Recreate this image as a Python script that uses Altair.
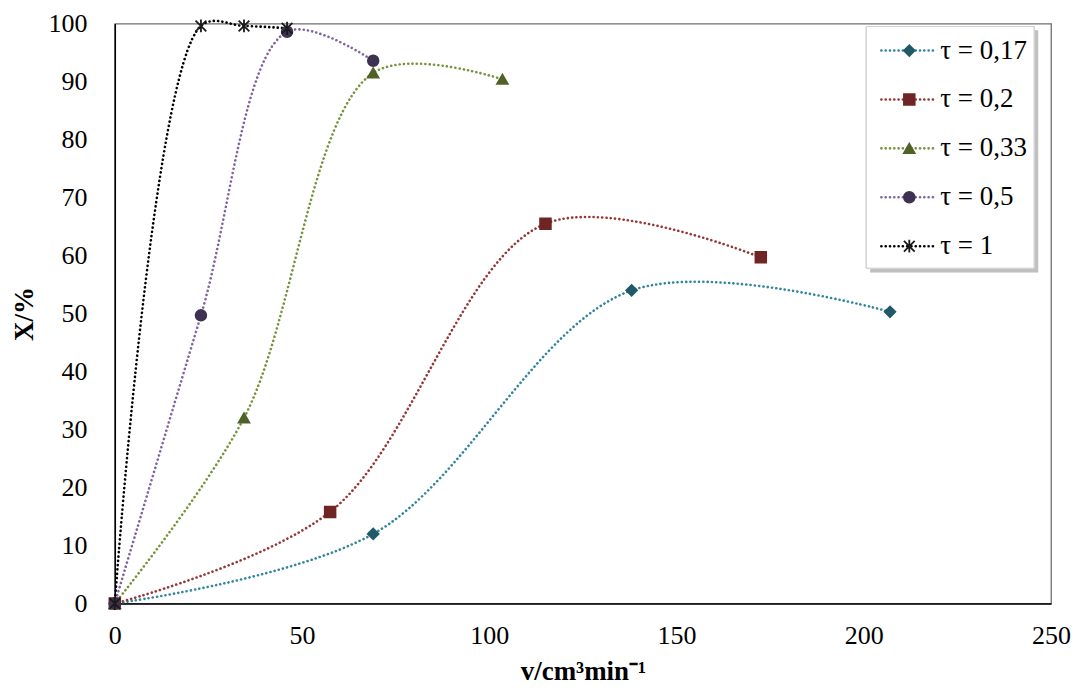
import altair as alt
import pandas as pd

# ---- data ----
labels = ["τ = 0,17", "τ = 0,2", "τ = 0,33", "τ = 0,5", "τ = 1"]
x_017 = [0, 69, 138, 207]
y_017 = [0, 12, 54, 50.3]
x_02 = [0, 57.5, 115, 172.5]
y_02 = [0, 15.8, 65.5, 59.7]
x_033 = [0, 34.5, 69, 103.5]
y_033 = [0, 32, 91.5, 90.4]
x_05 = [0, 23, 46, 69]
y_05 = [0, 49.7, 98.6, 93.6]
x_1 = [0, 23, 34.5, 46]
y_1 = [0, 99.6, 99.6, 99.2]

line_colors = ["#31859C", "#953735", "#77933C", "#8064A2", "#000000"]
mark_colors = ["#215968", "#6E2523", "#4F6228", "#3F3151", "#1A1A1A"]
asterisk = "M-1,-1L1,1M-1,1L1,-1M0,-1.2L0,1.2"
shapes = ["diamond", "square", "triangle-up", "circle", asterisk]

xs = [x_017, x_02, x_033, x_05, x_1]
ys = [y_017, y_02, y_033, y_05, y_1]

rows = []
for i, lab in enumerate(labels):
    for xv, yv in zip(xs[i], ys[i]):
        rows.append({"series": lab, "order": i, "v": xv, "X": yv,
                     "lc": line_colors[i], "mc": mark_colors[i], "shape": shapes[i]})
df = pd.DataFrame(rows)

leg = pd.DataFrame({"series": labels, "rank": list(range(len(labels))),
                    "lc": line_colors, "mc": mark_colors, "shape": shapes})

FONT = "Liberation Serif"
TOP = 15
W, H = 938, 596 - TOP

xenc = alt.X("v:Q", scale=alt.Scale(domain=[0, 250], nice=False),
             axis=alt.Axis(title="v/cm³min⁻¹", values=[0, 50, 100, 150, 200, 250]))
yenc = alt.Y("X:Q", scale=alt.Scale(domain=[0, 100], nice=False),
             axis=alt.Axis(title="X/%", values=list(range(0, 101, 10))))

lines = alt.Chart(df).mark_line(
    interpolate="catmull-rom", strokeDash=[0.1, 4.2], strokeCap="round",
    strokeWidth=2.6, clip=False
).encode(
    x=xenc, y=yenc,
    detail="series:N",
    color=alt.Color("lc:N", scale=None),
    order="v:Q",
)

points = alt.Chart(df).mark_point(filled=True, size=115, opacity=1, strokeWidth=1.8, clip=False).encode(
    x="v:Q", y="X:Q",
    shape=alt.Shape("shape:N", scale=None),
    fill=alt.Fill("mc:N", scale=None),
    stroke=alt.Stroke("mc:N", scale=None),
)

# ---- legend box (positions relative to plot area) ----
d = 18 - (8 + TOP)  # keep legend at same page position
ly = alt.Y("rank:O", scale=alt.Scale(type="point", range=[32 + d, 228 + d], padding=0), axis=None)

shadow = alt.Chart(leg).mark_rect(fill="#BFBFBF", opacity=0.55).encode(
    x=alt.value(757), x2=alt.value(925), y=alt.value(12 + d), y2=alt.value(254 + d))
box = alt.Chart(leg).mark_rect(fill="white", stroke="#D0D0D0", strokeWidth=1).encode(
    x=alt.value(753), x2=alt.value(921), y=alt.value(8 + d), y2=alt.value(250 + d))
leg_lines = alt.Chart(leg).mark_rule(strokeDash=[0.1, 4.2], strokeCap="round", strokeWidth=2.6).encode(
    x=alt.value(768), x2=alt.value(821), y=ly, color=alt.Color("lc:N", scale=None))
leg_pts = alt.Chart(leg).mark_point(filled=True, size=115, opacity=1, strokeWidth=1.8).encode(
    x=alt.value(796), y=ly,
    shape=alt.Shape("shape:N", scale=None),
    fill=alt.Fill("mc:N", scale=None),
    stroke=alt.Stroke("mc:N", scale=None))
leg_text = alt.Chart(leg).mark_text(align="left", baseline="middle", font=FONT, fontSize=27,
                                    color="black").encode(
    x=alt.value(827), y=ly, text="series:N")

main = alt.layer(lines, points)
legend = alt.layer(shadow, box, leg_lines, leg_pts, leg_text)

chart = alt.layer(main, legend).resolve_scale(y="independent", x="independent").properties(
    width=W, height=H,
    autosize=alt.AutoSizeParams(type="none"),
    padding={"left": 107, "top": TOP, "right": 22, "bottom": 84},
).configure_view(
    stroke="#6F6F6F", strokeWidth=1.3
).configure_axis(
    labelFont=FONT, labelFontSize=26, labelColor="black",
    titleFont=FONT, titleFontSize=27, titleFontWeight="bold", titleColor="black",
    grid=False, ticks=False, domainColor="black", domainWidth=1.5,
    labelFlush=False, labelOverlap=False,
).configure_axisY(
    labelPadding=28, titlePadding=9,
).configure_axisX(
    labelPadding=19, titlePadding=10,
)

chart.save("out.html", embed_options={"renderer": "svg", "actions": False})
